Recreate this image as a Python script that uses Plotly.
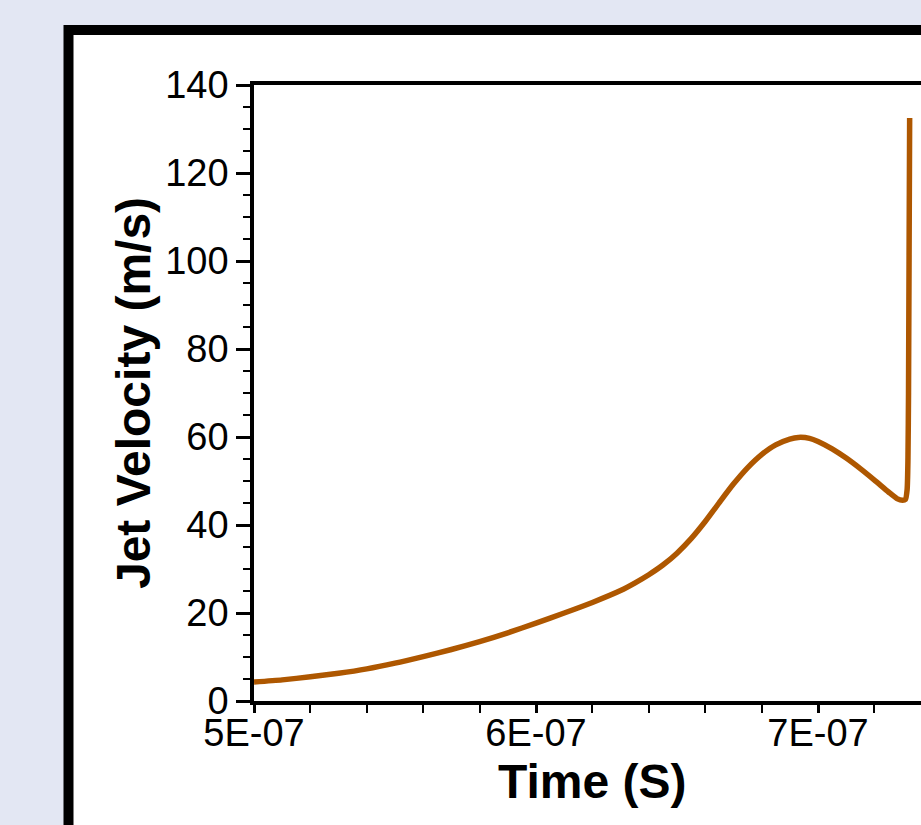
import plotly.graph_objects as go

# Time in nanoseconds (converted to seconds below) and jet velocity (m/s)
time_ns = [500, 510, 520, 530, 540, 550, 560, 570, 580, 590, 600, 610, 620, 630,
           635, 640, 645, 650, 655, 660, 665, 670, 675, 680, 685, 690, 693, 697, 700, 705,
           710, 715, 720, 725, 728, 730, 731, 731.6, 731.9, 732.1, 732.5]
velocity = [4.3, 4.8, 5.5, 6.3, 7.3, 8.6, 10.1, 11.7, 13.5, 15.5, 17.7, 20.0, 22.4, 25.1,
            26.8, 28.7, 30.9, 33.6, 36.9, 40.8, 45.1, 49.3, 53.0, 56.0, 58.2, 59.5, 59.9, 59.7, 59.0, 57.3,
            55.2, 52.8, 50.2, 47.5, 46.0, 45.6, 45.8, 48.0, 55.0, 70.0, 132.5]
time_s = [t * 1e-9 for t in time_ns]

x_tick_vals = [5e-7, 6e-7, 7e-7]
x_tick_text = ["5E-07", "6E-07", "7E-07"]
y_tick_vals = [0, 20, 40, 60, 80, 100, 120, 140]

x_title = "Time (S)"
y_title = "Jet Velocity (m/s)"

W, H = 921, 825
L, T, B = 254, 85, 124
plot_w = W - L
plot_h = H - T - B

x0 = 5e-7
x_end = x0 + plot_w / 282.0 * 1e-7

def px_to_paper_x(px):
    return (px - L) / plot_w

def py_to_paper_y(py):
    return (H - B - py) / plot_h

font_family = "Arial, Liberation Sans, sans-serif"

fig = go.Figure()
fig.add_trace(go.Scatter(x=time_s, y=velocity, mode="lines",
                         line=dict(color="#AE5700", width=5.5, shape="spline", smoothing=0.6),
                         showlegend=False, hoverinfo="skip"))

fig.add_shape(type="rect", xref="paper", yref="paper",
              x0=px_to_paper_x(68.5), y0=py_to_paper_y(900),
              x1=px_to_paper_x(1000), y1=py_to_paper_y(30),
              line=dict(color="black", width=10), fillcolor="white", layer="below")

fig.add_annotation(x=6.2e-7, xref="x", y=py_to_paper_y(781), yref="paper",
                   text="<b>%s</b>" % x_title, showarrow=False,
                   font=dict(family=font_family, size=48, color="black"),
                   xanchor="center", yanchor="middle")

fig.update_layout(
    width=W, height=H,
    margin=dict(l=L, r=0, t=T, b=B, pad=0),
    paper_bgcolor="#e3e7f3",
    plot_bgcolor="white",
    showlegend=False,
    xaxis=dict(range=[x0, x_end], tickvals=x_tick_vals, ticktext=x_tick_text,
               ticks="outside", ticklen=8, tickwidth=3, tickcolor="black",
               showline=True, linewidth=3.5, linecolor="black", mirror=True,
               showgrid=False, zeroline=False, ticklabelstandoff=-12,
               tickfont=dict(family=font_family, size=38, color="black"),
               minor=dict(dtick=2e-8, tick0=5e-7, ticks="outside", ticklen=8,
                          tickwidth=1.5, tickcolor="black", showgrid=False)),
    yaxis=dict(range=[0, 140], tickvals=y_tick_vals,
               ticks="outside", ticklen=14, tickwidth=3, tickcolor="black",
               showline=True, linewidth=3.5, linecolor="black", mirror=False,
               showgrid=False, zeroline=False,
               tickfont=dict(family=font_family, size=38, color="black"),
               title=dict(text="<b>%s</b>" % y_title, standoff=0,
                          font=dict(family=font_family, size=48, color="black")),
               minor=dict(dtick=5, tick0=0, ticks="outside", ticklen=7,
                          tickwidth=1.5, tickcolor="black", showgrid=False)),
)

fig.write_html("out.html", config={"displayModeBar": False},
               post_script="document.body.style.margin='0';document.body.style.overflow='hidden';")
